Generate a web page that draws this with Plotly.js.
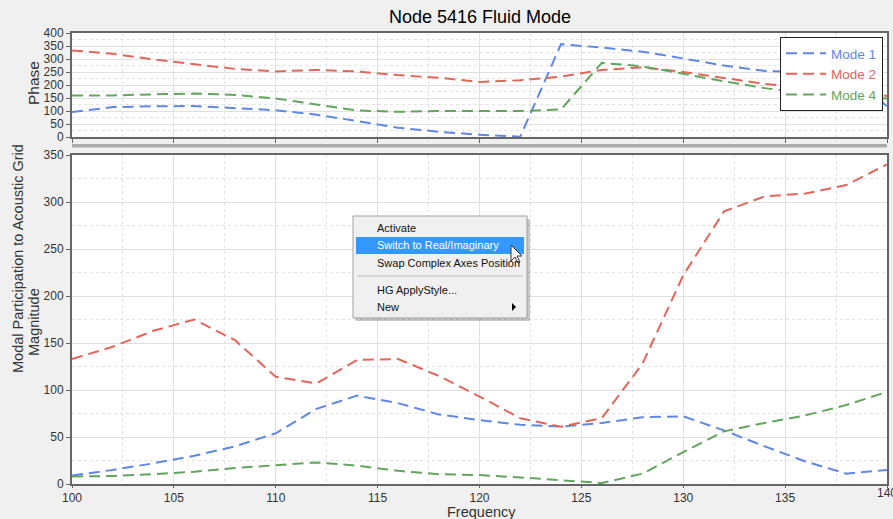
<!DOCTYPE html>
<html><head><meta charset="utf-8">
<script src="https://cdn.plot.ly/plotly-3.0.1.min.js"></script>
<style>body{margin:0;background:#f0f0f0}#c{width:893px;height:519px}</style>
</head><body><div id="c"></div>
<script>
const freq = [100,102,104,106,108,110,112,114,116,118,120,122,124,126,128,130,132,134,136,138,140];
// Phase (top)
const phaseMode1 = [96,115,118,119,111,103,86,62,36,20,9,1,357,344,328,302,275,254,250,250,118];
const phaseMode2 = [333,320,298,280,262,252,258,252,238,228,212,218,232,258,268,250,226,204,190,178,158];
const phaseMode4 = [160,160,164,167,162,148,125,102,97,100,100,100,106,285,272,242,214,188,168,155,148];
// Magnitude (bottom)
const magMode1 = [9,15,22,30,40,54,80,94,86,74,68,63,61,65,71,72,57,40,24,11,15];
const magMode2 = [133,146,163,175,153,114,107,132,133,115,93,70,61,70,128,222,290,306,309,318,340];
const magMode4 = [8,8.5,10.5,13,17,20,23,19.5,14,10.5,9.5,7,4,1,11,34,56,65,73,84,98];
const names = ["Mode 1","Mode 2","Mode 4"];
const colors = ["#5f87e6","#e2665a","#62a55c"];
const menuItems = ["Activate","Switch to Real/Imaginary","Swap Complex Axes Position","HG ApplyStyle...","New"];
const titleText = "Node 5416 Fluid Mode";
const xTitle = "Frequency";
const yTitleTop = "Phase";
const yTitleBottom = ["Modal Participation to Acoustic Grid","Magnitude"];

const L=72,R=887,T=33,B=484,W=R-L,H=B-T;
const px=x=>(x-L)/W, py=y=>(B-y)/H;

const dash="11px,6px";
const traces=[];
[phaseMode1,phaseMode2,phaseMode4].forEach((d,i)=>traces.push({x:freq,y:d,xaxis:'x2',yaxis:'y2',mode:'lines',
  name:`<span style="color:${colors[i]}">${names[i]}</span>`,line:{color:colors[i],width:2,dash:dash},showlegend:true}));
[magMode1,magMode2,magMode4].forEach((d,i)=>traces.push({x:freq,y:d,xaxis:'x',yaxis:'y',mode:'lines',
  name:names[i],line:{color:colors[i],width:2,dash:dash},showlegend:false}));

const FONT='Liberation Sans';
const grid={showgrid:true,gridcolor:'#e0e0e0',gridwidth:1,
  minor:{showgrid:true,gridcolor:'#e2e2e2',griddash:'dot',gridwidth:1},
  showline:true,mirror:true,linecolor:'#666',linewidth:2,ticks:'outside',ticklen:4,tickcolor:'#666',
  tickfont:{family:FONT,size:12,color:'#333'},zeroline:false};

const shapes=[
  {type:'rect',xref:'paper',yref:'paper',x0:px(72),x1:px(887),y0:py(144),y1:py(147.5),fillcolor:'#ababab',line:{width:0}},
  {type:'rect',xref:'paper',yref:'paper',x0:px(356),x1:px(530),y0:py(219),y1:py(321),fillcolor:'rgba(0,0,0,0.22)',line:{width:0}},
  {type:'rect',xref:'paper',yref:'paper',x0:px(353),x1:px(527),y0:py(216),y1:py(318),fillcolor:'#f0f0f0',line:{color:'#a0a0a0',width:1}},
  {type:'rect',xref:'paper',yref:'paper',x0:px(356),x1:px(524),y0:py(237),y1:py(254),fillcolor:'#3399ff',line:{width:0}},
  {type:'line',xref:'paper',yref:'paper',x0:px(357),x1:px(523),y0:py(276),y1:py(276),line:{color:'#b8b8b8',width:1}},
];
const tri=[[512,303],[516,307],[512,311]];
shapes.push({type:'path',xref:'paper',yref:'paper',path:'M'+tri.map(p=>px(p[0])+','+py(p[1])).join(' L')+' Z',fillcolor:'#000',line:{width:0}});
const cur=[[0,0],[0,16],[4,12],[7,18],[9,17],[6,11],[11,11]].map(p=>[511+p[0],245+p[1]]);
shapes.push({type:'path',xref:'paper',yref:'paper',path:'M'+cur.map(p=>px(p[0])+','+py(p[1])).join(' L')+' Z',fillcolor:'#fff',line:{color:'#333',width:1}});

const menuY=[228,245,263,290,307];
const annotations=menuItems.map((t,i)=>({text:t,xref:'paper',yref:'paper',x:px(375),y:py(menuY[i]),xanchor:'left',yanchor:'middle',
  showarrow:false,font:{family:FONT,size:11,color:i===1?'#ffffff':'#111'}}));
annotations.push({text:yTitleBottom[0],xref:'paper',yref:'paper',x:px(18),y:py(259),xanchor:'center',yanchor:'middle',textangle:-90,showarrow:false,font:{family:FONT,size:14.5,color:'#333'}});
annotations.push({text:yTitleBottom[1],xref:'paper',yref:'paper',x:px(34),y:py(322),xanchor:'center',yanchor:'middle',textangle:-90,showarrow:false,font:{family:FONT,size:14.5,color:'#333'}});
annotations.push({text:yTitleTop,xref:'paper',yref:'paper',x:px(33),y:py(83),xanchor:'center',yanchor:'middle',textangle:-90,showarrow:false,font:{family:FONT,size:15.5,color:'#333'}});
annotations.push({text:xTitle,xref:'paper',yref:'paper',x:px(481),y:py(521),xanchor:'center',yanchor:'bottom',borderpad:0,showarrow:false,font:{family:FONT,size:14.5,color:'#333'}});
annotations.push({text:titleText,xref:'paper',yref:'paper',x:px(480),y:py(17),xanchor:'center',yanchor:'middle',showarrow:false,font:{family:FONT,size:18,color:'#000'}});
annotations.push({text:'140',xref:'x',yref:'paper',x:140,y:py(493),xanchor:'center',yanchor:'middle',showarrow:false,font:{family:FONT,size:12,color:'#333'}});

const layout={
  width:893,height:519,paper_bgcolor:'#f0f0f0',plot_bgcolor:'#ffffff',
  margin:{l:L,r:893-R,t:T,b:519-B},
  xaxis:Object.assign({},grid,{range:[100,140],dtick:5,minor:Object.assign({},grid.minor,{dtick:2.5}),anchor:'y',ticklen:2}),
  yaxis:Object.assign({},grid,{range:[0,350],dtick:50,minor:Object.assign({},grid.minor,{dtick:25}),domain:[0,(B-155)/H],anchor:'x'}),
  xaxis2:Object.assign({},grid,{range:[100,140],dtick:5,minor:Object.assign({},grid.minor,{dtick:2.5}),anchor:'y2',showticklabels:false,matches:'x'}),
  yaxis2:Object.assign({},grid,{range:[0,400],dtick:50,minor:Object.assign({},grid.minor,{dtick:25}),domain:[(B-137)/H,1],anchor:'x2'}),
  legend:{x:px(780),y:py(37),xanchor:'left',yanchor:'top',bgcolor:'#ffffff',bordercolor:'#222',borderwidth:1,
    font:{family:FONT,size:13.5},tracegroupgap:0,itemwidth:40},
  shapes:shapes,annotations:annotations,showlegend:true
};
Plotly.newPlot('c',traces,layout,{staticPlot:true});
</script></body></html>
